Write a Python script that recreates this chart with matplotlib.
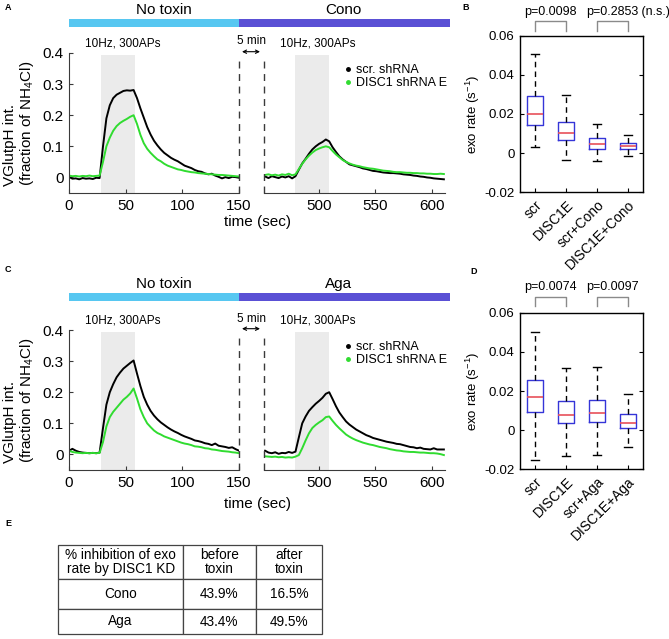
import numpy as np
import matplotlib
matplotlib.use("Agg")
import matplotlib.pyplot as plt
from matplotlib.lines import Line2D
from matplotlib.patches import Rectangle, FancyArrowPatch

plt.rcParams["font.family"] = "Liberation Sans"
plt.rcParams["mathtext.default"] = "regular"

W, H = 669, 639

# ---- traces (fraction of NH4Cl), sampled every 3 s ----
T_LEFT = np.arange(0, 151, 3)
T_RIGHT = np.arange(452, 612, 3)

A_LEFT_SCR = [0.002, -0.004, -0.003, -0.006, -0.002, -0.004, -0.003, -0.005, -0.001, -0.002,
              0.100, 0.190, 0.232, 0.255, 0.266, 0.272, 0.278, 0.280, 0.279, 0.281,
              0.255, 0.222, 0.192, 0.162, 0.138, 0.118, 0.103, 0.090, 0.079, 0.071,
              0.063, 0.057, 0.052, 0.045, 0.038, 0.034, 0.030, 0.024, 0.020, 0.018,
              0.013, 0.010, 0.012, 0.006, 0.002, -0.003, 0.001, -0.002, 0.002, 0.001, -0.001]
A_LEFT_KD = [0.006, 0.004, 0.005, 0.003, 0.005, 0.004, 0.006, 0.004, 0.005, 0.006,
             0.050, 0.100, 0.128, 0.150, 0.165, 0.175, 0.182, 0.188, 0.195, 0.200,
             0.172, 0.137, 0.110, 0.092, 0.079, 0.068, 0.058, 0.052, 0.044, 0.038,
             0.034, 0.030, 0.026, 0.024, 0.021, 0.019, 0.017, 0.016, 0.014, 0.013,
             0.012, 0.011, 0.010, 0.009, 0.008, 0.008, 0.007, 0.006, 0.005, 0.004, 0.003]
A_RIGHT_SCR = [0.003, -0.002, 0.004, 0.001, -0.002, 0.003, 0.000, 0.004, -0.003, 0.004,
               0.025, 0.045, 0.060, 0.076, 0.090, 0.100, 0.108, 0.114, 0.122, 0.116,
               0.097, 0.082, 0.068, 0.058, 0.050, 0.042, 0.039, 0.036, 0.033, 0.029,
               0.027, 0.024, 0.021, 0.020, 0.018, 0.016, 0.015, 0.014, 0.014, 0.013,
               0.012, 0.010, 0.009, 0.008, 0.006, 0.005, 0.003, 0.002, 0.000, -0.001,
               -0.003, -0.004, -0.005, -0.006]
A_RIGHT_KD = [0.008, 0.010, 0.007, 0.009, 0.006, 0.010, 0.008, 0.012, 0.007, 0.010,
              0.027, 0.044, 0.058, 0.070, 0.080, 0.088, 0.093, 0.097, 0.100, 0.097,
              0.085, 0.074, 0.065, 0.056, 0.050, 0.045, 0.041, 0.038, 0.036, 0.033,
              0.031, 0.029, 0.028, 0.026, 0.024, 0.022, 0.021, 0.020, 0.018, 0.017,
              0.017, 0.016, 0.015, 0.015, 0.014, 0.014, 0.013, 0.013, 0.012, 0.012,
              0.011, 0.011, 0.012, 0.011]

C_LEFT_SCR = [0.012, 0.018, 0.012, 0.008, 0.006, 0.005, 0.004, 0.005, 0.004, 0.006,
              0.085, 0.160, 0.200, 0.226, 0.248, 0.263, 0.276, 0.285, 0.294, 0.302,
              0.260, 0.220, 0.185, 0.160, 0.140, 0.125, 0.113, 0.103, 0.095, 0.087,
              0.080, 0.074, 0.069, 0.063, 0.058, 0.054, 0.050, 0.045, 0.043, 0.040,
              0.036, 0.034, 0.030, 0.035, 0.028, 0.026, 0.024, 0.021, 0.023, 0.017, 0.012]
C_LEFT_KD = [0.012, 0.008, 0.006, 0.005, 0.004, 0.005, 0.004, 0.005, 0.004, 0.005,
             0.040, 0.090, 0.120, 0.137, 0.150, 0.163, 0.176, 0.185, 0.196, 0.212,
             0.180, 0.145, 0.120, 0.100, 0.088, 0.077, 0.069, 0.064, 0.058, 0.054,
             0.050, 0.046, 0.042, 0.038, 0.035, 0.033, 0.030, 0.026, 0.025, 0.023,
             0.020, 0.019, 0.016, 0.015, 0.013, 0.011, 0.010, 0.009, 0.007, 0.006, 0.004]
C_RIGHT_SCR = [0.012, 0.006, 0.004, 0.007, 0.002, 0.005, 0.004, 0.008, 0.005, 0.009,
               0.055, 0.100, 0.122, 0.140, 0.152, 0.163, 0.172, 0.182, 0.195, 0.200,
               0.178, 0.155, 0.135, 0.120, 0.106, 0.096, 0.088, 0.080, 0.074, 0.068,
               0.062, 0.058, 0.053, 0.050, 0.047, 0.044, 0.041, 0.039, 0.037, 0.034,
               0.033, 0.030, 0.027, 0.024, 0.023, 0.020, 0.022, 0.018, 0.017, 0.016,
               0.020, 0.016, 0.016, 0.016]
C_RIGHT_KD = [-0.006, -0.007, -0.008, -0.007, -0.009, -0.008, -0.010, -0.009, -0.010, -0.007,
              -0.002, 0.020, 0.045, 0.068, 0.085, 0.095, 0.103, 0.110, 0.120, 0.122,
              0.108, 0.095, 0.084, 0.074, 0.064, 0.057, 0.051, 0.046, 0.042, 0.038,
              0.035, 0.032, 0.030, 0.027, 0.024, 0.022, 0.020, 0.017, 0.015, 0.013,
              0.012, 0.010, 0.009, 0.008, 0.008, 0.007, 0.006, 0.006, 0.005, 0.004,
              0.004, 0.003, 0.001, -0.002]

STIM_LEFT = (28, 58)
STIM_RIGHT = (479, 509)
YTICKS = [0, 0.1, 0.2, 0.3, 0.4]
YTICKLABELS = ["0", "0.1", "0.2", "0.3", "0.4"]
XT_LEFT = [0, 50, 100, 150]
XT_RIGHT = [500, 550, 600]

# ---- exo rate boxplots ----
B_LABELS = ["scr", "DISC1E", "scr+Cono", "DISC1E+Cono"]
B_MED = [0.0200, 0.0103, 0.0046, 0.0038]
B_Q1 = [0.0145, 0.0068, 0.0021, 0.0019]
B_Q3 = [0.0292, 0.0161, 0.0075, 0.0051]
B_LO = [0.0031, -0.0036, -0.0041, -0.0014]
B_HI = [0.0508, 0.0296, 0.0149, 0.0094]
B_PVALS = ["p=0.0098", "p=0.2853"]
B_NS = [False, True]

D_LABELS = ["scr", "DISC1E", "scr+Aga", "DISC1E+Aga"]
D_MED = [0.0168, 0.0077, 0.0086, 0.0039]
D_Q1 = [0.0093, 0.0036, 0.0041, 0.0012]
D_Q3 = [0.0256, 0.0151, 0.0155, 0.0081]
D_LO = [-0.0151, -0.0134, -0.0129, -0.0088]
D_HI = [0.0501, 0.0319, 0.0323, 0.0184]
D_PVALS = ["p=0.0074", "p=0.0097"]
D_NS = [False, False]

BOX_YTICKS = [-0.02, 0, 0.02, 0.04, 0.06]
BOX_YTICKLABELS = ["-0.02", "0", "0.02", "0.04", "0.06"]

# ---- table ----
TABLE_HEADER = ["% inhibition of exo\nrate by DISC1 KD", "before\ntoxin", "after\ntoxin"]
TABLE_ROWS = ["Cono", "Aga"]
BEFORE = ["43.9%", "43.4%"]
AFTER = ["16.5%", "49.5%"]

SPINE = "#3a3a3a"
SCR_COLOR = "black"
KD_COLOR = "#30dc30"
NOTOX = "#57c7f1"
TOX = "#5a50d5"
SHADE = "#ebebeb"
BOX_BLUE = "#3535d8"
MED_RED = "#e8505a"

fig = plt.figure(figsize=(W / 100, H / 100), dpi=100)


def fx(x):
    return x / W


def fy(y):
    return 1 - y / H


def px_ax(l, t, r, b):
    return fig.add_axes([l / W, 1 - b / H, (r - l) / W, (b - t) / H])


def trace_panel(off, bar_off, toxin, l_scr, l_kd, r_scr, r_kd, xlab_y):
    axL = px_ax(69, 53 + off, 239, 193 + off)
    axR = px_ax(264, 53 + off, 445, 193 + off)
    axL.set_xlim(0, 150)
    axR.set_xlim(451, 612)
    for ax in (axL, axR):
        ax.set_ylim(-0.05, 0.4)
        ax.patch.set_alpha(0)
        ax.spines["top"].set_visible(False)
        ax.spines["right"].set_visible(False)
        ax.spines["bottom"].set_color(SPINE)
        ax.spines["left"].set_color(SPINE)
        ax.tick_params(direction="in", length=3, labelsize=11, color=SPINE, pad=4)
    axR.spines["left"].set_visible(False)
    axR.set_yticks([])
    axL.set_yticks(YTICKS)
    axL.set_yticklabels(YTICKLABELS)
    axL.set_xticks(XT_LEFT)
    axR.set_xticks(XT_RIGHT)

    axL.axvspan(*STIM_LEFT, ymax=0.985, color=SHADE, lw=0, zorder=0)
    axR.axvspan(*STIM_RIGHT, ymax=0.985, color=SHADE, lw=0, zorder=0)
    axL.plot(T_LEFT, l_scr, color=SCR_COLOR, lw=1.4)
    axL.plot(T_LEFT, l_kd, color=KD_COLOR, lw=1.4)
    axR.plot(T_RIGHT, r_scr, color=SCR_COLOR, lw=1.4)
    axR.plot(T_RIGHT, r_kd, color=KD_COLOR, lw=1.4)

    # gap markers
    axL.axvline(150, ymax=0.97, color=SPINE, lw=1, ls=(0, (5, 4)), clip_on=False)
    axR.axvline(451, ymax=0.97, color=SPINE, lw=1, ls=(0, (5, 4)), clip_on=False)

    axL.text(47, 1.065, "10Hz, 300APs", transform=axL.get_xaxis_transform(),
             ha="center", va="center", fontsize=8.5)
    axR.text(499, 1.065, "10Hz, 300APs", transform=axR.get_xaxis_transform(),
             ha="center", va="center", fontsize=8.5)

    fig.text(fx(252), fy(41.5 + off), "5 min", ha="center", va="center", fontsize=8.5)
    fig.add_artist(FancyArrowPatch(
        (fx(242), fy(51.7 + off)), (fx(260), fy(51.7 + off)), transform=fig.transFigure,
        arrowstyle="<->", mutation_scale=6, lw=0.8, color="black", shrinkA=0, shrinkB=0))

    # treatment bars
    bar_top = 19.3 + bar_off
    fig.add_artist(Rectangle((fx(69), fy(bar_top + 7.4)), (239 - 69) / W, 7.4 / H,
                             transform=fig.transFigure, color=NOTOX, lw=0))
    fig.add_artist(Rectangle((fx(239), fy(bar_top + 7.4)), (450 - 239) / W, 7.4 / H,
                             transform=fig.transFigure, color=TOX, lw=0))
    fig.text(fx(135.7), fy(10 + bar_off), "No toxin", ha="left", va="center", fontsize=11)
    fig.text(fx(325), fy(10 + bar_off), toxin, ha="left", va="center", fontsize=11)

    handles = [Line2D([], [], color=SCR_COLOR, marker=".", ls="none", markersize=5, label="scr. shRNA"),
               Line2D([], [], color=KD_COLOR, marker=".", ls="none", markersize=5, label="DISC1 shRNA E")]
    axR.legend(handles=handles, loc="upper left", bbox_to_anchor=(fx(343), fy(64 + off)),
               bbox_transform=fig.transFigure, frameon=False, fontsize=9, borderpad=0,
               handlelength=0.8, handletextpad=0.2, labelspacing=0.1, borderaxespad=0)

    fig.text(fx(257), fy(xlab_y), "time (sec)", ha="center", va="center", fontsize=11)
    fig.text(fx(19.5), fy(123 + off), "VGlutpH int.\n(fraction of NH$_4$Cl)", rotation=90,
             ha="center", va="center", multialignment="left", fontsize=11, linespacing=1.1)


def box_panel(top, bottom, labels, med, q1, q3, lo, hi, pvals, ns, ptxt_y, br_top, br_bot):
    ax = px_ax(520, top, 643, bottom)
    stats = [dict(med=m, q1=a, q3=b, whislo=l, whishi=h)
             for m, a, b, l, h in zip(med, q1, q3, lo, hi)]
    ax.bxp(stats, positions=[1, 2, 3, 4], widths=0.52, showfliers=False, capwidths=0.26,
           boxprops=dict(color=BOX_BLUE, lw=1),
           medianprops=dict(color=MED_RED, lw=1.2),
           whiskerprops=dict(color="black", lw=1, ls=(0, (4, 3))),
           capprops=dict(color="black", lw=1))
    ax.set_xlim(0.5, 4.5)
    ax.set_ylim(-0.02, 0.06)
    ax.set_yticks(BOX_YTICKS)
    ax.set_yticklabels(BOX_YTICKLABELS)
    ax.set_xticks([1, 2, 3, 4])
    ax.set_xticklabels(labels, rotation=45, ha="right", va="top", rotation_mode="anchor", fontsize=10)
    ax.tick_params(axis="y", direction="in", length=3, labelsize=9.5, right=True, pad=4)
    ax.tick_params(axis="x", direction="in", length=3, pad=4)
    for s in ax.spines.values():
        s.set_color("black")
        s.set_linewidth(1)

    tr = ax.get_xaxis_transform()
    for i, (p, n) in enumerate(zip(pvals, ns)):
        x0, x1 = 1 + 2 * i, 2 + 2 * i
        ax.plot([x0, x0, x1, x1], [br_bot, br_top, br_top, br_bot], color="#8a8a8a", lw=1,
                transform=tr, clip_on=False)
        t = ax.text((x0 + x1) / 2, ptxt_y, p, transform=tr, ha="center", va="center", fontsize=9)
        if n:
            ax.annotate(" (n.s.)", xy=(1, 0.5), xycoords=t, ha="left", va="center", fontsize=9)
    fig.text(fx(473), fy((top + bottom) / 2), "exo rate (s$^{-1}$)", rotation=90,
             ha="center", va="center", fontsize=9.5)


trace_panel(0, 0, "Cono", A_LEFT_SCR, A_LEFT_KD, A_RIGHT_SCR, A_RIGHT_KD, 222)
trace_panel(277, 274, "Aga", C_LEFT_SCR, C_LEFT_KD, C_RIGHT_SCR, C_RIGHT_KD, 504)

box_panel(35.7, 192.3, B_LABELS, B_MED, B_Q1, B_Q3, B_LO, B_HI, B_PVALS, B_NS, 1.151, 1.096, 1.032)
box_panel(312.7, 469.3, D_LABELS, D_MED, D_Q1, D_Q3, D_LO, D_HI, D_PVALS, D_NS, 1.166, 1.102, 1.043)

# table E
ax_t = px_ax(58.3, 545, 321.7, 634)
ax_t.axis("off")
cell_text = [[r, b, a] for r, b, a in zip(TABLE_ROWS, BEFORE, AFTER)]
tbl = ax_t.table(cellText=cell_text, colLabels=TABLE_HEADER, colWidths=[124.7, 73, 65.7],
                 cellLoc="center", bbox=[0, 0, 1, 1])
tbl.auto_set_font_size(False)
tbl.set_fontsize(9.8)
row_h = [34, 30, 25]
for (r, c), cell in tbl.get_celld().items():
    cell.set_height(row_h[r])
    cell.set_edgecolor("#444444")
    cell.set_linewidth(0.9)
    cell.get_text().set_linespacing(0.95)

# panel letters
for letter, x, y in [("A", 8, 8), ("B", 466, 8), ("C", 8, 269), ("D", 474, 271), ("E", 8, 523)]:
    fig.text(fx(x), fy(y), letter, fontsize=6.5, fontweight="bold", ha="center", va="center")

fig.savefig("out.png", dpi=100)
